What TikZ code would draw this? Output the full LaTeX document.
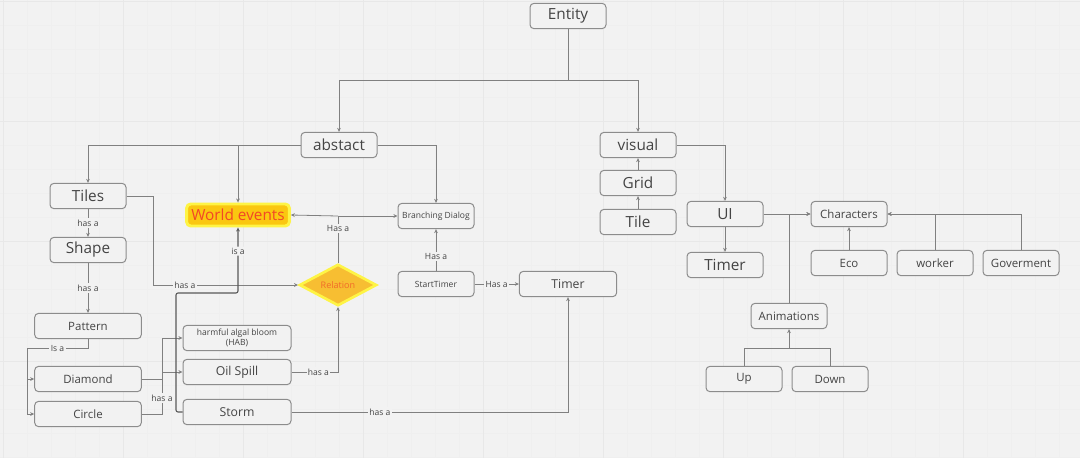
\documentclass[tikz,border=0pt]{standalone}
\usepackage{fontspec}
\setmainfont{Open Sans}
\usetikzlibrary{arrows.meta,shapes.geometric}

\definecolor{bgcol}{HTML}{F2F2F2}
\definecolor{gridminor}{HTML}{EFEFEF}
\definecolor{gridmajor}{HTML}{E8E8E8}
\definecolor{boxcol}{HTML}{8C8C8C}
\definecolor{linecol}{HTML}{808080}
\definecolor{txtcol}{HTML}{444444}
\definecolor{glow}{HTML}{FEF445}
\definecolor{amber}{HTML}{FAC710}
\definecolor{reldia}{HTML}{F7BE32}
\definecolor{redtext}{HTML}{F24726}
\definecolor{reltext}{HTML}{F26A2A}

\tikzset{
  box/.style={draw=boxcol, fill=bgcol, line width=0.75pt, rounded corners=3pt,
    minimum width=57pt, minimum height=19pt, inner sep=1pt, text=txtcol,
    font=\fontsize{8.6}{10}\selectfont},
  big/.style={box, font=\fontsize{11.5}{13}\selectfont},
  small/.style={box, font=\fontsize{6.4}{7.2}\selectfont, align=center},
  wide/.style={minimum width=80pt},
  line/.style={draw=linecol, line width=0.6pt},
  conn/.style={line, -{Stealth[length=3pt,width=2.8pt]}},
  lbl/.style={fill=bgcol, inner sep=1pt, text=txtcol, font=\fontsize{6.4}{7}\selectfont},
}

\begin{document}
\begin{tikzpicture}[x=0.75pt,y=-0.75pt]
\useasboundingbox (0,0) rectangle (1080,458);
\fill[bgcol] (0,0) rectangle (1080,458);
% grid
\foreach \gx in {3,27,...,1080} \draw[gridminor, line width=0.5pt] (\gx,0) -- (\gx,458);
\foreach \gy in {1,25,...,458} \draw[gridminor, line width=0.5pt] (0,\gy) -- (1080,\gy);
\foreach \gx in {3,123,...,1080} \draw[gridmajor, line width=0.7pt] (\gx,0) -- (\gx,458);
\foreach \gy in {1,121,...,458} \draw[gridmajor, line width=0.7pt] (0,\gy) -- (1080,\gy);

% top
\node[big] (entity) at (568,16) {Entity};
\node[big] (abstact) at (339,145) {abstact};
\node[big] (visual) at (638,145) {visual};

% abstact side
\node[big] (tiles) at (88,196) {Tiles};
\node[big] (shape) at (88,250) {Shape};
\node[box, wide] (pattern) at (88,326) {Pattern};
\node[box, wide] (diamondn) at (88,379) {Diamond};
\node[box, wide] (circ) at (88,414) {Circle};
\node[draw=glow, line width=2.2pt, fill=amber, rounded corners=3pt, minimum width=77pt,
  minimum height=16.5pt, inner sep=1pt, text=redtext, font=\fontsize{11.5}{13}\selectfont]
  (worldev) at (238,215) {World events};
\node[diamond, draw=glow, line width=2pt, fill=reldia, minimum width=58pt, minimum height=20pt,
  inner sep=0pt, text=reltext, font=\fontsize{6.8}{7.5}\selectfont] (relation) at (338,285) {Relation};
\node[small, minimum width=81pt] (hab) at (237,338) {harmful algal bloom\\(HAB)};
\node[box, minimum width=81pt, font=\fontsize{9.2}{11}\selectfont] (oil) at (237,372) {Oil Spill};
\node[box, minimum width=81pt, font=\fontsize{9.2}{11}\selectfont] (storm) at (237,412) {Storm};
\node[small] (branch) at (436,216) {Branching Dialog};
\node[small] (starttimer) at (436,284) {StartTimer};
\node[box, minimum width=73pt, font=\fontsize{9.2}{11}\selectfont] (timerm) at (568,284) {Timer};

% visual side
\node[big] (grid) at (638,183) {Grid};
\node[big] (tile) at (638,222) {Tile};
\node[big] (ui) at (725,214) {UI};
\node[big] (timerr) at (725,265) {Timer};
\node[box] (chars) at (849,214) {Characters};
\node[box] (eco) at (849,263) {Eco};
\node[box] (worker) at (935,263) {worker};
\node[box] (gov) at (1021,263) {Goverment};
\node[box] (anim) at (789,316) {Animations};
\node[box] (up) at (744,379) {Up};
\node[box] (down) at (830,379) {Down};

% connectors
\coordinate (split) at (568,80);
\draw[line] (entity.south) -- (split);
\draw[conn] (split) -| (abstact.north);
\draw[conn] (split) -| (visual.north);

\draw[conn] (abstact.west) -| (tiles.north);
\draw[conn] (abstact.west) -| (worldev.north);
\draw[conn] (abstact.east) -| (branch.north);

\draw[conn] (tiles) -- node[lbl]{has a} (shape);
\draw[conn] (shape) -- node[lbl]{has a} (pattern);
\draw[conn] (tiles.east) -- (153,196) |- node[lbl, pos=0.61]{has a} (relation.west);

\coordinate (isa) at (27,348);
\draw[conn] (pattern.south) |- node[lbl, pos=0.75]{Is a} (isa) |- (diamondn.west);
\draw[conn] (isa) |- (circ.west);

\coordinate (dc) at (162,379);
\draw[line] (diamondn.east) -- (dc);
\draw[line] (circ.east) -| node[lbl, pos=0.73]{has a} (dc);
\draw[conn] (dc) |- (hab.west);
\draw[conn] (dc) |- (oil.west);

\coordinate (isabend) at (176,293);
\draw[conn, draw=black!65, line width=0.8pt, rounded corners=1.5pt] (storm.west) -| (isabend) -| node[lbl, pos=0.82]{is a} (worldev.south);

\draw[conn] (oil.east) -| node[lbl, pos=0.29]{has a} (relation.south);
\coordinate (rj) at (338,216);
\draw[line] (relation.north) -- node[lbl, pos=0.73]{Has a} (rj);
\draw[conn] (rj) -- (worldev.east);
\draw[conn] (rj) -- (branch.west);

\draw[conn] (starttimer) -- node[lbl, pos=0.35]{Has a} (branch);
\draw[conn] (starttimer) -- node[lbl]{Has a} (timerm);
\draw[conn] (storm.east) -| node[lbl, pos=0.16]{has a} (timerm.south);

\draw[conn] (tile) -- (grid);
\draw[conn] (grid) -- (visual);
\draw[conn] (visual.east) -| (ui.north);
\draw[conn] (ui) -- (timerr);
\draw[conn] (ui.east) -- (chars.west);
\draw[conn] (anim.north) |- (chars.west);
\draw[conn] (eco) -- (chars);
\draw[conn] (worker.north) |- (chars.east);
\draw[conn] (gov.north) |- (chars.east);

\coordinate (udj) at (789,348);
\draw[line] (up.north) |- (udj);
\draw[line] (down.north) |- (udj);
\draw[conn] (udj) -- (anim.south);
\end{tikzpicture}
\end{document}
